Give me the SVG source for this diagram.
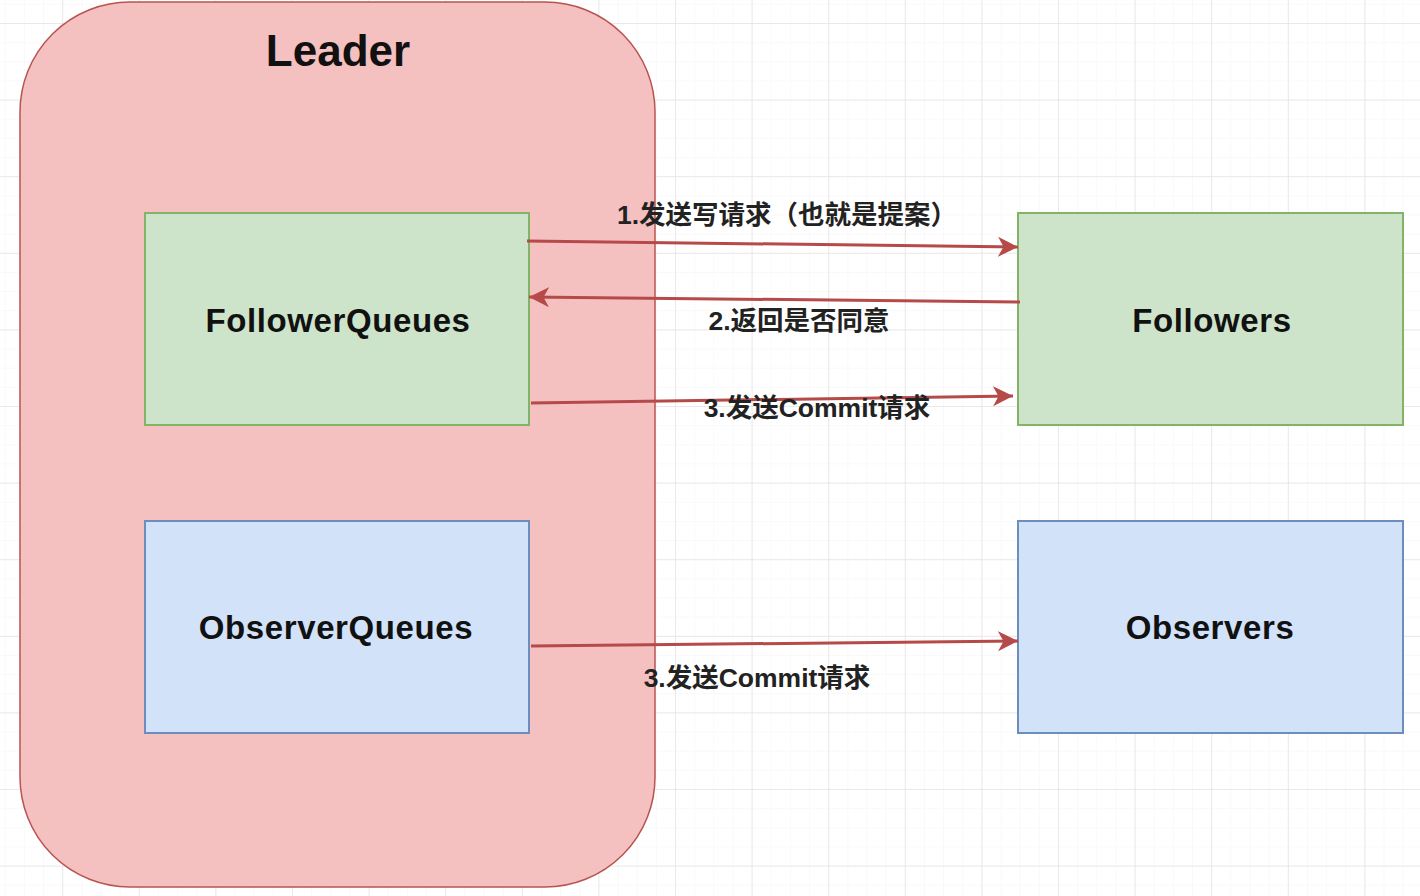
<svg xmlns="http://www.w3.org/2000/svg" width="1420" height="896" viewBox="0 0 1420 896">
<defs>
<pattern id="minor" patternUnits="userSpaceOnUse" x="62.2" y="23" width="19.15" height="19.15">
<path d="M0,0 H19.15 M0,0 V19.15" fill="none" stroke="#f4f4f4" stroke-width="1"/>
</pattern>
<pattern id="major" patternUnits="userSpaceOnUse" x="62.2" y="23" width="76.6" height="76.6">
<path d="M0,0 H76.6 M0,0 V76.6" fill="none" stroke="#e4e4e4" stroke-width="1.5"/>
</pattern>
<marker id="arrow" markerUnits="userSpaceOnUse" markerWidth="22" markerHeight="22" refX="20" refY="10" orient="auto">
<path d="M0,0 L20,10 L0,20 L5.5,10 Z" fill="#b54a48"/>
</marker>
<style>
.leader{fill:#f4c0c0;stroke:#b85450;stroke-width:1.5}
.green{fill:#cde4ca;stroke:#82b366;stroke-width:2}
.blue{fill:#d2e2f8;stroke:#6c8ebf;stroke-width:2}
.title{font-family:"Liberation Sans",Arial,sans-serif;font-weight:bold;font-size:44px;fill:#111;text-anchor:middle}
.node{font-family:"Liberation Sans",Arial,sans-serif;font-weight:bold;font-size:33px;fill:#111;text-anchor:middle;letter-spacing:0.6px}
.lbl{font-family:"Liberation Sans","Noto Sans CJK SC",sans-serif;font-weight:bold;font-size:26.5px;fill:#222;text-anchor:middle}
.edge{stroke:#b54a48;stroke-width:3;fill:none;marker-end:url(#arrow)}
</style>
</defs>
<rect width="1420" height="896" fill="#ffffff"/>
<rect width="1420" height="896" fill="url(#minor)"/>
<rect width="1420" height="896" fill="url(#major)"/>

<g id="leader">
<rect class="leader" x="20" y="2" width="635" height="885" rx="110" ry="110"/>
<text class="title" x="338" y="66">Leader</text>
</g>

<g id="followerqueues">
<rect class="green" x="145" y="213" width="384" height="212"/>
<text class="node" x="338" y="332">FollowerQueues</text>
</g>

<g id="observerqueues">
<rect class="blue" x="145" y="521" width="384" height="212"/>
<text class="node" x="336" y="639">ObserverQueues</text>
</g>

<g id="followers">
<rect class="green" x="1018" y="213" width="385" height="212"/>
<text class="node" x="1212" y="332">Followers</text>
</g>

<g id="observers">
<rect class="blue" x="1018" y="521" width="385" height="212"/>
<text class="node" x="1210" y="639">Observers</text>
</g>

<g id="connectors">
<line class="edge" x1="527" y1="241" x2="1018" y2="247"/>
<line class="edge" x1="1020" y1="302" x2="529" y2="297"/>
<line class="edge" x1="531" y1="403" x2="1013" y2="396"/>
<line class="edge" x1="531" y1="646" x2="1018" y2="641"/>
<text class="lbl" x="787" y="224">1.发送写请求（也就是提案）</text>
<text class="lbl" x="799" y="330">2.返回是否同意</text>
<text class="lbl" x="817" y="417">3.发送Commit请求</text>
<text class="lbl" x="757" y="687">3.发送Commit请求</text>
</g>
</svg>
